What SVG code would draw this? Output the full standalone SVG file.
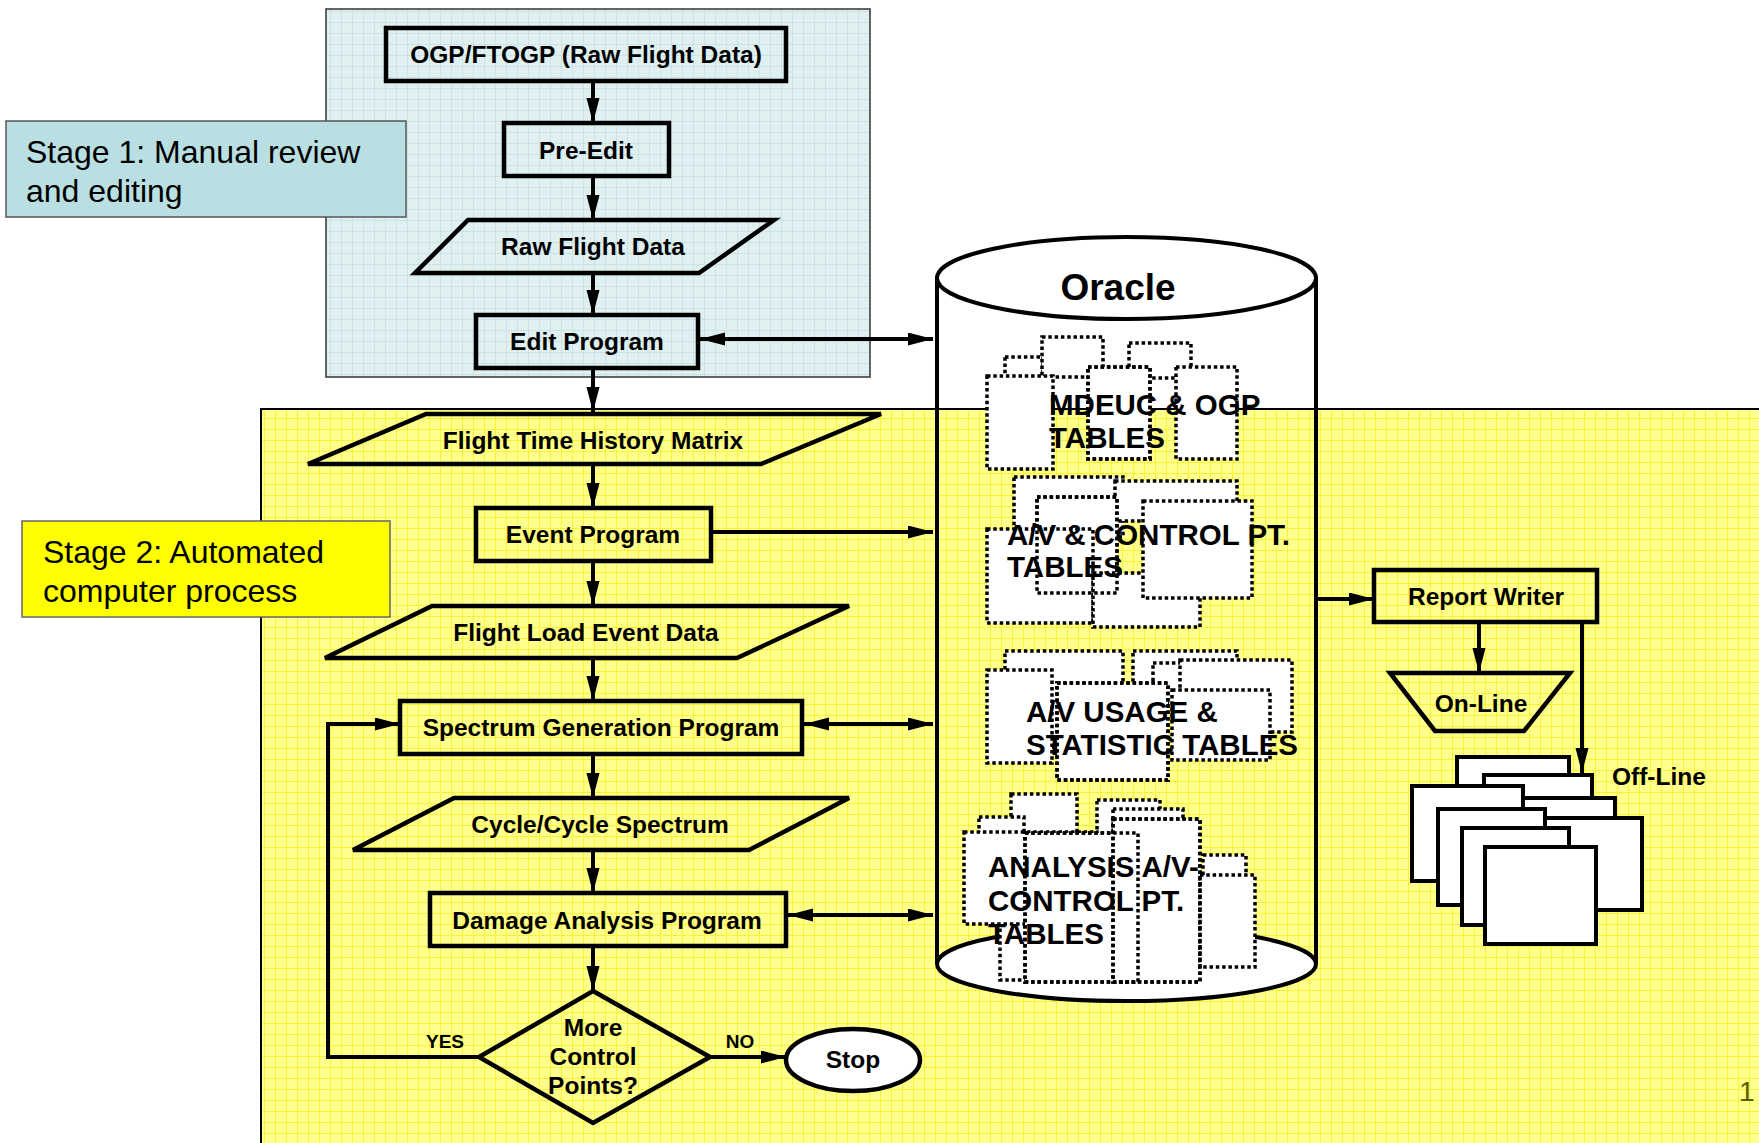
<svg xmlns="http://www.w3.org/2000/svg" width="1759" height="1143" viewBox="0 0 1759 1143">
<defs>
<pattern id="gy" width="11" height="11" patternUnits="userSpaceOnUse">
<rect width="11" height="11" fill="#ffff8c"/>
<path d="M0,0.5 H11 M0.5,0 V11" stroke="#faf23a" stroke-width="1"/>
</pattern>
<pattern id="gb" width="11" height="11" patternUnits="userSpaceOnUse">
<rect width="11" height="11" fill="#e0f0f1"/>
<path d="M0,0.5 H11 M0.5,0 V11" stroke="#c9e3e6" stroke-width="1"/>
</pattern>
<marker id="ah" markerUnits="userSpaceOnUse" markerWidth="26" markerHeight="14" refX="25" refY="6.5" orient="auto-start-reverse">
<path d="M0,0 L25,6.5 L0,13 Z" fill="#000"/>
</marker>
</defs>
<style>
.bx{fill:none;stroke:#000;stroke-width:4.5}
.t{font-family:"Liberation Sans",Arial,sans-serif;font-weight:bold;font-size:24.5px;text-anchor:middle;fill:#000}
.st{font-family:"Liberation Sans",Arial,sans-serif;font-size:32px;fill:#000}
.tl{font-family:"Liberation Sans",Arial,sans-serif;font-weight:bold;font-size:29.5px;fill:#000}
.c{fill:none;stroke:#000;stroke-width:4}
.tb{fill:#fff;stroke:#000;stroke-width:3.5;stroke-dasharray:3.5 2.8}
.tbo{fill:none;stroke:#000;stroke-width:3.5;stroke-dasharray:3.5 2.8}
.pg{fill:#fff;stroke:#000;stroke-width:4}
</style>
<rect width="1759" height="1143" fill="#fff"/>
<!-- regions -->
<g id="stage1-region">
<rect x="326" y="9" width="544" height="368" fill="url(#gb)" stroke="#333" stroke-width="1.5"/>
</g>
<g id="stage2-region">
<rect x="261" y="409" width="1500" height="740" fill="url(#gy)" stroke="#000" stroke-width="2"/>
</g>
<g id="stage1-label">
<rect x="6" y="121" width="400" height="96" fill="#b9dfe2" stroke="#555" stroke-width="1.5"/>
<text class="st" x="26" y="163">Stage 1: Manual review</text>
<text class="st" x="26" y="202">and editing</text>
</g>
<g id="stage2-label">
<rect x="22" y="521" width="368" height="96" fill="#ffff00" stroke="#666" stroke-width="1.5"/>
<text class="st" x="43" y="563">Stage 2: Automated</text>
<text class="st" x="43" y="602">computer process</text>
</g>
<!-- Oracle cylinder -->
<g id="oracle">
<ellipse cx="1126.5" cy="964" rx="189.5" ry="37" fill="#fff" stroke="#000" stroke-width="4"/>
<path class="c" d="M937,278 V964 M1316,278 V964"/>
<ellipse cx="1126.5" cy="278" rx="189.5" ry="41" fill="#fff" stroke="#000" stroke-width="4"/>
<text class="t" x="1118" y="300" style="font-size:37px">Oracle</text>
</g>
<g id="mdeuc-tables">
<rect class="tb" x="1005" y="357" width="38" height="30"/>
<rect class="tb" x="1042" y="337" width="61" height="40"/>
<rect class="tb" x="1129" y="343" width="62" height="35"/>
<rect class="tb" x="987" y="376" width="66" height="93"/>
<rect class="tb" x="1088" y="367" width="62" height="92"/>
<rect class="tb" x="1176" y="367" width="61" height="92"/>
<text class="tl" x="1049" y="415">MDEUC &amp; OGP</text>
<text class="tl" x="1049" y="448">TABLES</text>
<rect class="tbo" x="1088" y="367" width="62" height="92"/>
</g>
<g id="av-control-tables">
<rect class="tb" x="1014" y="477" width="109" height="60"/>
<rect class="tb" x="1115" y="481" width="122" height="40"/>
<rect class="tb" x="1037" y="497" width="80" height="96"/>
<rect class="tb" x="987" y="529" width="106" height="94"/>
<rect class="tb" x="1093" y="573" width="107" height="54"/>
<rect class="tb" x="1143" y="501" width="109" height="97"/>
<text class="tl" x="1007" y="545">A/V &amp; CONTROL PT.</text>
<text class="tl" x="1007" y="577">TABLES</text>
<rect class="tbo" x="1037" y="497" width="80" height="96"/>
</g>
<g id="av-usage-tables">
<rect class="tb" x="1005" y="651" width="118" height="96"/>
<rect class="tb" x="1133" y="651" width="104" height="50"/>
<rect class="tb" x="1153" y="663" width="29" height="40"/>
<rect class="tb" x="1180" y="660" width="112" height="72"/>
<rect class="tb" x="987" y="670" width="65" height="93"/>
<rect class="tb" x="1172" y="690" width="98" height="70"/>
<rect class="tb" x="1057" y="683" width="111" height="97"/>
<text class="tl" x="1026" y="722">A/V USAGE &amp;</text>
<text class="tl" x="1026" y="755">STATISTIC TABLES</text>
<rect class="tbo" x="1057" y="683" width="111" height="97"/>
</g>
<g id="analysis-tables">
<rect class="tb" x="1011" y="794" width="66" height="46"/>
<rect class="tb" x="979" y="817" width="45" height="30"/>
<rect class="tb" x="1097" y="800" width="63" height="40"/>
<rect class="tb" x="1113" y="809" width="70" height="36"/>
<rect class="tb" x="1203" y="855" width="43" height="30"/>
<rect class="tb" x="1000" y="900" width="40" height="80"/>
<rect class="tb" x="964" y="832" width="133" height="92"/>
<rect class="tb" x="1025" y="833" width="113" height="149"/>
<rect class="tb" x="1113" y="819" width="87" height="163"/>
<rect class="tb" x="1200" y="875" width="55" height="92"/>
<text class="tl" x="988" y="877">ANALYSIS A/V-</text>
<text class="tl" x="988" y="911">CONTROL PT.</text>
<text class="tl" x="988" y="944">TABLES</text>
<rect class="tbo" x="1025" y="833" width="113" height="149"/>
<rect class="tbo" x="1113" y="819" width="87" height="163"/>
</g>
<!-- flow nodes -->
<g id="ogp">
<rect class="bx" x="386" y="28" width="400" height="53"/>
<text class="t" x="586" y="63">OGP/FTOGP (Raw Flight Data)</text>
</g>
<g id="pre-edit">
<rect class="bx" x="504" y="123" width="165" height="53"/>
<text class="t" x="586" y="159">Pre-Edit</text>
</g>
<g id="raw-flight-data">
<polygon class="bx" points="468,220 774,220 699,273 415,273"/>
<text class="t" x="593" y="255">Raw Flight Data</text>
</g>
<g id="edit-program">
<rect class="bx" x="476" y="315" width="222" height="53"/>
<text class="t" x="587" y="350">Edit Program</text>
</g>
<g id="flight-time-history">
<polygon class="bx" points="426,414 881,414 761,464 308,464"/>
<text class="t" x="593" y="449">Flight Time History Matrix</text>
</g>
<g id="event-program">
<rect class="bx" x="476" y="508" width="235" height="53"/>
<text class="t" x="593" y="543">Event Program</text>
</g>
<g id="flight-load-event">
<polygon class="bx" points="432,606 849,606 737,658 325,658"/>
<text class="t" x="586" y="641">Flight Load Event Data</text>
</g>
<g id="spectrum-generation">
<rect class="bx" x="400" y="701" width="402" height="53"/>
<text class="t" x="601" y="736">Spectrum Generation Program</text>
</g>
<g id="cycle-spectrum">
<polygon class="bx" points="454,798 849,798 749,850 353,850"/>
<text class="t" x="600" y="833">Cycle/Cycle Spectrum</text>
</g>
<g id="damage-analysis">
<rect class="bx" x="430" y="893" width="356" height="53"/>
<text class="t" x="607" y="929">Damage Analysis Program</text>
</g>
<g id="decision">
<polygon class="bx" points="593,991 710,1057 593,1123 479,1057"/>
<text class="t" x="593" y="1036">More</text>
<text class="t" x="593" y="1065">Control</text>
<text class="t" x="593" y="1094">Points?</text>
</g>
<g id="stop">
<ellipse cx="853" cy="1060" rx="67" ry="31" fill="#fff" stroke="#000" stroke-width="4.5"/>
<text class="t" x="853" y="1068">Stop</text>
</g>
<g id="report-writer">
<rect class="bx" x="1374" y="570" width="223" height="52"/>
<text class="t" x="1486" y="605">Report Writer</text>
</g>
<g id="on-line">
<polygon class="bx" points="1390,673 1570,673 1524,731 1435,731"/>
<text class="t" x="1481" y="712">On-Line</text>
</g>
<g id="off-line">
<rect class="pg" x="1457" y="757" width="112" height="95"/>
<rect class="pg" x="1484" y="775" width="108" height="95"/>
<rect class="pg" x="1508" y="798" width="107" height="95"/>
<rect class="pg" x="1535" y="818" width="107" height="92"/>
<rect class="pg" x="1412" y="786" width="111" height="95"/>
<rect class="pg" x="1438" y="809" width="107" height="96"/>
<rect class="pg" x="1462" y="828" width="107" height="97"/>
<rect class="pg" x="1485" y="847" width="111" height="97"/>
<text class="t" x="1612" y="785" style="text-anchor:start;font-size:24.5px">Off-Line</text>
</g>
<!-- connectors -->
<g id="connectors" fill="none" stroke="#000" stroke-width="4">
<path d="M593,81 V123" marker-end="url(#ah)"/>
<path d="M593,176 V220" marker-end="url(#ah)"/>
<path d="M593,273 V315" marker-end="url(#ah)"/>
<path d="M593,368 V412" marker-end="url(#ah)"/>
<path d="M593,464 V508" marker-end="url(#ah)"/>
<path d="M593,561 V606" marker-end="url(#ah)"/>
<path d="M593,658 V701" marker-end="url(#ah)"/>
<path d="M593,754 V798" marker-end="url(#ah)"/>
<path d="M593,850 V893" marker-end="url(#ah)"/>
<path d="M593,946 V991" marker-end="url(#ah)"/>
<path d="M700,339 H933" marker-start="url(#ah)" marker-end="url(#ah)"/>
<path d="M711,532 H933" marker-end="url(#ah)"/>
<path d="M804,724 H933" marker-start="url(#ah)" marker-end="url(#ah)"/>
<path d="M788,915 H933" marker-start="url(#ah)" marker-end="url(#ah)"/>
<path d="M479,1057 H328 V724 H400" marker-end="url(#ah)"/>
<path d="M710,1057 H786" marker-end="url(#ah)"/>
<path d="M1316,599 H1374" marker-end="url(#ah)"/>
<path d="M1479,622 V673" marker-end="url(#ah)"/>
<path d="M1582,622 V773" marker-end="url(#ah)"/>
</g>
<text class="t" x="445" y="1048" style="font-size:19px">YES</text>
<text class="t" x="740" y="1048" style="font-size:19px">NO</text>
<text x="1739" y="1101" style="font-family:'Liberation Sans',Arial,sans-serif;font-size:28px;fill:#5c5c00">1</text>
</svg>
